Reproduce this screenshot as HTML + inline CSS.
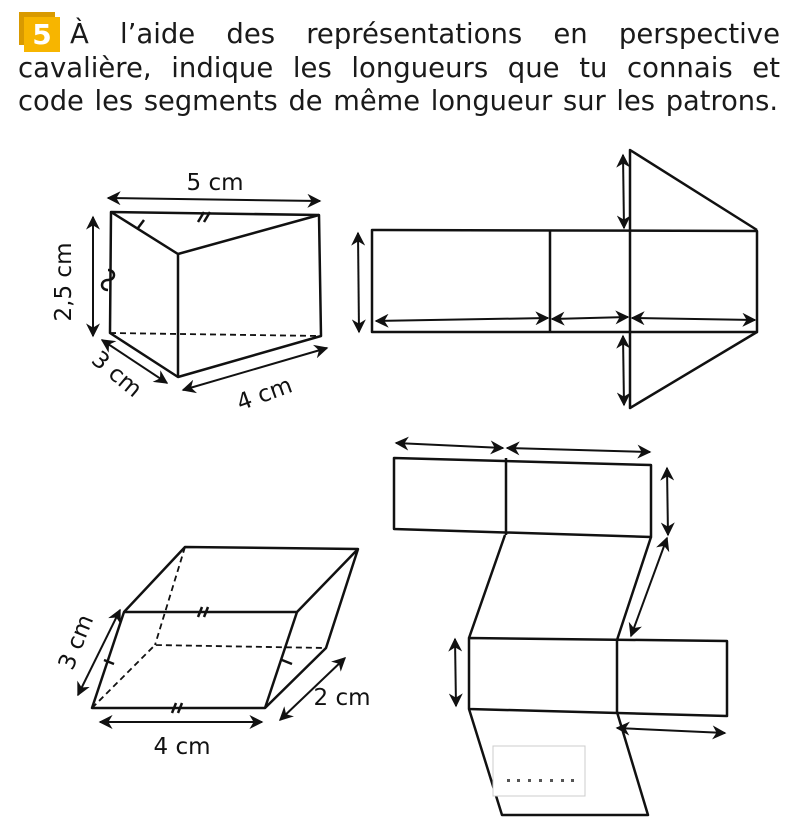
<!DOCTYPE html>
<html><head><meta charset="utf-8"><style>
html,body{margin:0;padding:0;background:#fff;width:803px;height:834px;overflow:hidden}
.t{position:absolute;left:18px;width:762px;font-family:"DejaVu Sans","Liberation Sans",sans-serif;font-size:27.5px;line-height:34px;color:#1a1a1a;text-align:justify;text-align-last:justify;white-space:normal}
.n{position:absolute;left:19px;top:12px;width:36px;height:33px;background:#d99a00}
.n span{position:absolute;left:5px;top:5px;width:36px;height:35px;background:#f7b500;color:#fff;font-weight:bold;font-family:"DejaVu Sans",sans-serif;font-size:28px;line-height:35px;text-align:center}
svg{position:absolute;left:0;top:0}
</style></head><body>
<div class="n"><span>5</span></div>
<div class="t" style="top:17px;left:70px;width:710px">À l’aide des représentations en perspective</div>
<div class="t" style="top:51px">cavalière, indique les longueurs que tu connais et</div>
<div class="t" style="top:85px;width:760px;font-size:27.3px">code les segments de même longueur sur les patrons.</div>
<svg width="803" height="834" viewBox="0 0 803 834">
<defs><marker id="a" viewBox="0 0 10 10" refX="9" refY="5" markerWidth="7" markerHeight="7" orient="auto-start-reverse"><path d="M0,0L10,5L0,10L3,5z" fill="#111"/></marker></defs>
<g fill="none" stroke="#111" stroke-width="2.5" stroke-linejoin="round">
<path d="M111,212L319,215L321,336L178,377L110,333Z"/>
<path d="M111,212L178,254L319,215M178,254L178,377"/>
<path d="M110,333L321,336" stroke-dasharray="6,4" stroke-width="1.8"/>
<path d="M138,228l6,-8M198,222l6,-10M204,222l6,-10M108,270c8,0 8,10 0,10c-8,0 -8,10 0,10"/>
<g stroke-width="2" marker-start="url(#a)" marker-end="url(#a)">
<path d="M108,198L320,201"/><path d="M93,217L93,336"/><path d="M102,340L167,383"/><path d="M183,390L327,348"/>
<path d="M358,233L359,332"/><path d="M623,155L624,228"/><path d="M623,336L624,405"/>
<path d="M376,321L548,318"/><path d="M552,319L628,317"/><path d="M632,318L755,320"/>
<path d="M396,443L503,448"/><path d="M507,448L650,452"/><path d="M667,468L668,535"/><path d="M667,538L631,636"/><path d="M455,639L456,706"/><path d="M617,728L725,733"/>
<path d="M78,695L120,610"/><path d="M100,722L262,722"/><path d="M280,720L345,658"/>
</g>
<path d="M372,230L757,231L757,332L372,332Z"/>
<path d="M550,230L550,332M630,230L630,332M630,230L630,150L757,230M630,332L630,408L757,332"/>
<path d="M394,458L651,465L651,537L394,529Z"/><path d="M506,458L506,535"/>
<path d="M505,535L469,638M651,537L617,640"/>
<path d="M469,638L727,641L727,716L469,709Z"/><path d="M617,640L617,712"/>
<path d="M469,709L502,815L648,815L617,712"/>
<path d="M92,708L265,708L297,612L124,612Z"/>
<path d="M124,612L185,547L358,549L297,612M358,549L326,648L265,708"/>
<path d="M185,547L155,645M92,708L155,645L326,648" stroke-dasharray="6,4" stroke-width="1.8"/>
<path d="M198,617l4,-10M204,617l4,-10M172,713l4,-10M178,713l4,-10M104,660l10,4M282,660l10,4"/>
</g>
<rect x="493" y="746" width="92" height="50" fill="#fff" stroke="#ccc" stroke-width="1"/>
<g fill="#555"><rect x="507" y="779" width="3" height="3"/><rect x="517" y="779" width="3" height="3"/><rect x="528" y="779" width="3" height="3"/><rect x="539" y="779" width="3" height="3"/><rect x="550" y="779" width="3" height="3"/><rect x="561" y="779" width="3" height="3"/><rect x="571" y="779" width="3" height="3"/></g>
<text x="0" y="0" font-size="1" fill="#fff">.......</text>
<g font-family="DejaVu Sans,Liberation Sans,sans-serif" font-size="23" fill="#111" text-anchor="middle">
<text x="215" y="190">5 cm</text>
<text transform="translate(71,282) rotate(-90)">2,5 cm</text>
<text transform="translate(112,380) rotate(40)">3 cm</text>
<text transform="translate(267,401) rotate(-20)">4 cm</text>
<text transform="translate(83,645) rotate(-68)">3 cm</text>
<text x="182" y="754">4 cm</text>
<text x="342" y="705">2 cm</text>
</g>
</svg>
</body></html>
